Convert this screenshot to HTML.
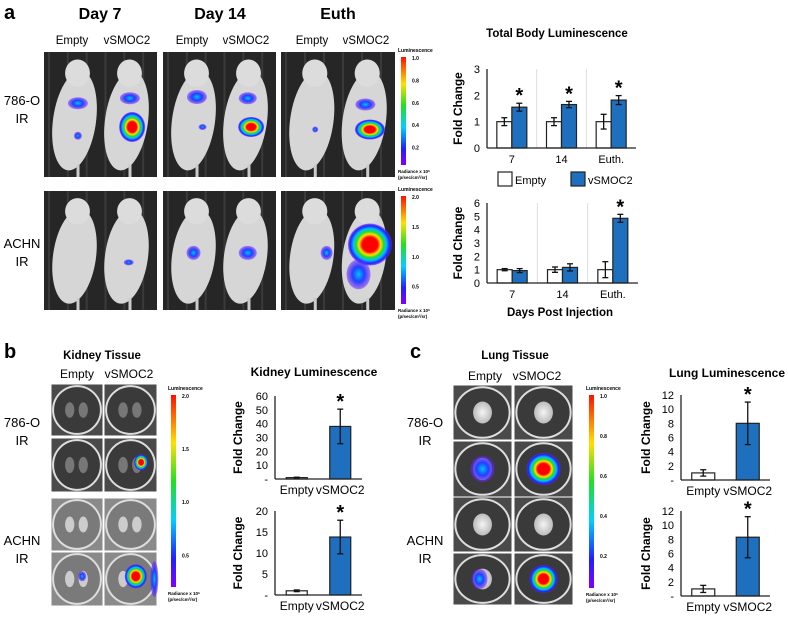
<!DOCTYPE html>
<html><head><meta charset="utf-8"><style>
body{margin:0;background:#fff;}
svg{display:block;font-family:"Liberation Sans",Arial,sans-serif;}
</style></head><body>
<svg id="fig" width="788" height="617" viewBox="0 0 788 617" xmlns="http://www.w3.org/2000/svg">
<defs>
<linearGradient id="cbar" x1="0" y1="1" x2="0" y2="0">
<stop offset="0" stop-color="#8000ff"/><stop offset="0.15" stop-color="#2020ff"/><stop offset="0.35" stop-color="#00d0ff"/><stop offset="0.55" stop-color="#20e020"/><stop offset="0.75" stop-color="#ffe000"/><stop offset="1" stop-color="#ff1000"/>
</linearGradient>
<radialGradient id="heat"><stop offset="0" stop-color="#ff0000"/><stop offset="0.35" stop-color="#ff0000"/><stop offset="0.5" stop-color="#ffe000"/><stop offset="0.62" stop-color="#20e020"/><stop offset="0.75" stop-color="#00c0ff"/><stop offset="0.9" stop-color="#2020ff"/><stop offset="1" stop-color="#6a20ff" stop-opacity="0.6"/></radialGradient>
<radialGradient id="cool"><stop offset="0" stop-color="#00c0ff"/><stop offset="0.5" stop-color="#2040ff"/><stop offset="1" stop-color="#7020ff" stop-opacity="0.5"/></radialGradient>
<radialGradient id="tissue"><stop offset="0" stop-color="#f4f4f4"/><stop offset="1" stop-color="#bbb"/></radialGradient>
</defs>
<g id="static"></g>
<g id="charts"></g>
</svg>
<script>
// ===== Chart data =====
const bodyCats = ["7","14","Euth."];
const body786Empty = [1.0,1.0,1.0];
const body786EmptyErr = [0.15,0.15,0.28];
const body786Smoc = [1.55,1.65,1.82];
const body786SmocErr = [0.15,0.12,0.17];
const body786Ticks = [0,1,2,3];
const bodyAchnEmpty = [1.0,1.0,1.0];
const bodyAchnEmptyErr = [0.08,0.2,0.6];
const bodyAchnSmoc = [0.93,1.17,4.85];
const bodyAchnSmocErr = [0.15,0.27,0.3];
const bodyAchnTicks = [0,1,2,3,4,5,6];
const body786Stars = [true,true,true];
const bodyAchnStars = [false,false,true];
const tissueCats = ["Empty","vSMOC2"];
const tissueStars = [false,true];
const kidney786 = [1.0,38];
const kidney786Err = [0.3,12.5];
const kidney786Ticks = ["-","10","20","30","40","50","60"];
const kidneyAchn = [1.0,13.8];
const kidneyAchnErr = [0.2,4];
const kidneyAchnTicks = ["-","5","10","15","20"];
const lung786 = [1.0,8.0];
const lung786Err = [0.45,3.0];
const lungAchn = [1.0,8.3];
const lungAchnErr = [0.5,2.9];
const lungTicks = ["-","2","4","6","8","10","12"];

const NS="http://www.w3.org/2000/svg";
function mk(parent,tag,attrs,txt){const e=document.createElementNS(NS,tag);for(const k in attrs)e.setAttribute(k,attrs[k]);if(txt!==undefined)e.textContent=txt;parent.appendChild(e);return e;}
const S=document.getElementById('static');
const C=document.getElementById('charts');
const BLUE="#1f6fbf";

function txt(x,y,s,size,weight,anchor,name){const t=mk(S,'text',{x:x,y:y,'font-size':size,'font-weight':weight||'normal','text-anchor':anchor||'middle',fill:'#000'},s);


return t;}

txt(4,19,"a",20,"bold","start","panel-label-a");
txt(4,358,"b",20,"bold","start","panel-label-b");
txt(410,358,"c",20,"bold","start","panel-label-c");
txt(100,19,"Day 7",16,"bold","middle","day7-header");
txt(220,19,"Day 14",16,"bold","middle","day14-header");
txt(338,19,"Euth",16,"bold","middle","euth-header");
[[72,127],[192,246],[312,366]].forEach((p,i)=>{txt(p[0],44,"Empty",11.5,"normal","middle","empty-col-label");txt(p[1],44,"vSMOC2",11.5,"normal","middle","vsmoc2-col-label");});
txt(22,105,"786-O",13,"normal","middle","row-786o");txt(22,123,"IR",13,"normal","middle","row-786o-ir");
txt(22,248,"ACHN",13,"normal","middle","row-achn");txt(22,266,"IR",13,"normal","middle","row-achn-ir");

function mousePanel(x,y,w,h,blobs){
 const g=mk(S,'g',{});
 
 
 mk(g,'rect',{x:x,y:y,width:w,height:h,fill:'#262626'});
 for(let i=0;i<6;i++)mk(g,'rect',{x:x+4+i*w/6,y:y,width:2,height:h,fill:'#3a3a3a'});
 [0.27,0.73].forEach((f,j)=>{const cx=x+w*f, cy=y+h*0.55;
  mk(g,'ellipse',{cx:cx,cy:cy,rx:w*0.19,ry:h*0.4,fill:'#d6d6d6',transform:`rotate(8 ${cx} ${cy})`});
  mk(g,'ellipse',{cx:cx+3,cy:y+h*0.17,rx:w*0.11,ry:h*0.11,fill:'#dcdcdc'});
  mk(g,'rect',{x:cx+2,y:y+h*0.9,width:3,height:h*0.1,fill:'#ccc'});
 });
 blobs.forEach(b=>mk(g,'ellipse',{cx:x+w*b[0],cy:y+h*b[1],rx:b[2],ry:b[3],fill:b[4]?'url(#heat)':'url(#cool)'}));
}
mousePanel(44,52,113,125,[[0.3,0.41,10,6,0],[0.3,0.67,4,4,0],[0.76,0.37,10,6,0],[0.78,0.6,13,15,1]]);
mousePanel(163,52,113,125,[[0.3,0.36,10,7,0],[0.35,0.6,4,3,0],[0.75,0.37,9,6,0],[0.78,0.6,13,10,1]]);
mousePanel(281,52,114,125,[[0.3,0.62,3,3,0],[0.74,0.42,10,6,0],[0.78,0.62,15,10,1]]);
mousePanel(44,191,113,119,[[0.75,0.6,5,3,0]]);
mousePanel(163,191,113,119,[[0.27,0.52,7,7,0],[0.75,0.52,9,7,0]]);
mousePanel(281,191,114,119,[[0.4,0.52,6,7,0],[0.78,0.45,22,21,1],[0.68,0.7,12,15,0]]);

function colorbar(x,y,h,labels,title,name){
 const g=mk(S,'g',{});
 
 
 mk(g,'text',{x:x-3,y:y-5,'font-size':5,'font-weight':'bold'},title);
 mk(g,'rect',{x:x,y:y,width:5,height:h,fill:'url(#cbar)'});
 labels.forEach((l,i)=>mk(g,'text',{x:x+11,y:y+3+i*(h*0.83)/(labels.length-1),'font-size':5,'font-weight':'bold'},l));
 mk(g,'text',{x:x-3,y:y+h+8,'font-size':4.5,'font-weight':'bold'},"Radiance x 10⁶");
 mk(g,'text',{x:x-3,y:y+h+14,'font-size':4.5,'font-weight':'bold'},"(p/sec/cm²/sr)");
}
colorbar(401,57,108,["1.0","0.8","0.6","0.4","0.2"],"Luminescence","colorbar-786o");
colorbar(401,196,108,["2.0","1.5","1.0","0.5"],"Luminescence","colorbar-achn");
colorbar(171,395,192,["2.0","1.5","1.0","0.5"],"Luminescence","colorbar-kidney");
colorbar(589,395,193,["1.0","0.8","0.6","0.4","0.2"],"Luminescence","colorbar-lung");

function dish(x,y,w,h,light,blobs,lung){
 const g=mk(S,'g',{});
 
 
 mk(g,'rect',{x:x,y:y,width:w,height:h,fill:light?'#8a8a8a':'#4a4a4a',stroke:'#fff','stroke-width':1});
 mk(g,'ellipse',{cx:x+w/2,cy:y+h/2,rx:w*0.46,ry:h*0.46,fill:light?'#7a7a7a':'#3a3a3a',stroke:'#ddd','stroke-width':2});
 if(lung){mk(g,'ellipse',{cx:x+w/2,cy:y+h/2,rx:w*0.16,ry:h*0.2,fill:'url(#tissue)'});}
 else{mk(g,'ellipse',{cx:x+w*0.36,cy:y+h/2,rx:w*0.09,ry:h*0.15,fill:light?'#ccc':'#777'});mk(g,'ellipse',{cx:x+w*0.62,cy:y+h/2,rx:w*0.09,ry:h*0.15,fill:light?'#ccc':'#777'});}
 blobs.forEach(b=>mk(g,'ellipse',{cx:x+w*b[0],cy:y+h*b[1],rx:b[2],ry:b[3],fill:b[4]?'url(#heat)':'url(#cool)'}));
}
dish(51,384,52,52,false,[]);dish(104,384,53,52,false,[]);
dish(51,438,52,54,false,[]);dish(104,438,53,54,false,[[0.7,0.45,7,8,1]]);
dish(51,498,52,53,true,[]);dish(104,498,53,53,true,[]);
dish(51,552,52,54,true,[[0.6,0.45,4,5,0]]);dish(104,552,53,54,true,[[0.6,0.45,11,12,1],[0.95,0.5,4,18,0]]);
txt(102,359,"Kidney Tissue",11.5,"bold","middle","kidney-tissue-title");
txt(77,378,"Empty",12,"normal","middle","kidney-empty-label");txt(129,378,"vSMOC2",12,"normal","middle","kidney-vsmoc2-label");
txt(22,427,"786-O",13,"normal","middle","kidney-row-786o");txt(22,445,"IR",13,"normal","middle","kidney-row-786o-ir");
txt(22,545,"ACHN",13,"normal","middle","kidney-row-achn");txt(22,563,"IR",13,"normal","middle","kidney-row-achn-ir");

dish(453,385,59,55,false,[],1);dish(514,385,59,55,false,[],1);
dish(453,441,59,56,false,[[0.5,0.5,12,13,0]],1);dish(514,441,59,56,false,[[0.5,0.5,17,16,1]],1);
dish(453,497,59,55,false,[],1);dish(514,497,59,55,false,[],1);
dish(453,553,59,52,false,[[0.45,0.5,8,10,0]],1);dish(514,553,59,52,false,[[0.5,0.5,14,14,1]],1);
txt(515,359,"Lung Tissue",11.5,"bold","middle","lung-tissue-title");
txt(485,380,"Empty",12,"normal","middle","lung-empty-label");txt(537,380,"vSMOC2",12,"normal","middle","lung-vsmoc2-label");
txt(425,427,"786-O",13,"normal","middle","lung-row-786o");txt(425,445,"IR",13,"normal","middle","lung-row-786o-ir");
txt(425,545,"ACHN",13,"normal","middle","lung-row-achn");txt(425,563,"IR",13,"normal","middle","lung-row-achn-ir");

function chart(cfg){
 const g=mk(C,'g',{});
 
 
 const n=cfg.cats.length, gw=(cfg.x1-cfg.x0)/n;
 const yS=v=>cfg.yb-(v/cfg.max)*(cfg.yb-cfg.yt);
 cfg.ticks.forEach((t,i)=>{const v=cfg.tickVals[i];const tt=mk(g,'text',{x:cfg.x0-7,y:yS(v)+4,'font-size':11,'text-anchor':'end'},t);
  
  });
 if(cfg.dividers)for(let i=1;i<n;i++)mk(g,'line',{x1:cfg.x0+gw*i,y1:cfg.yt,x2:cfg.x0+gw*i,y2:cfg.yb,stroke:'#ddd','stroke-width':1});
 cfg.cats.forEach((c,i)=>{const cx=cfg.x0+gw*(i+0.5);
  const lt=mk(g,'text',{x:cx,y:cfg.yb+15,'font-size':cfg.catSize||11,'text-anchor':'middle'},c);
  
  
  cfg.series.forEach((s,j)=>{
   const bw=cfg.bw, bx=cfg.series.length===1?cx-bw/2:(j===0?cx-bw:cx);
   const v=s.vals[i], e=s.err[i];
   const fill=Array.isArray(s.fill)?s.fill[i]:s.fill;
   const r=mk(g,'rect',{x:bx,y:yS(v),width:bw,height:cfg.yb-yS(v),fill:fill,stroke:'#222','stroke-width':1.2});
   
   
   const ex=bx+bw/2;
   mk(g,'line',{x1:ex,y1:yS(v+e),x2:ex,y2:yS(Math.max(0,v-e)),stroke:'#111','stroke-width':1.3});
   mk(g,'line',{x1:ex-3,y1:yS(v+e),x2:ex+3,y2:yS(v+e),stroke:'#111','stroke-width':1.3});
   mk(g,'line',{x1:ex-3,y1:yS(Math.max(0,v-e)),x2:ex+3,y2:yS(Math.max(0,v-e)),stroke:'#111','stroke-width':1.3});
   if(s.stars&&s.stars[i]){const st=mk(g,'text',{x:ex,y:yS(v+e)+11,'font-size':20,'font-weight':'bold','text-anchor':'middle'},"*");
    
    
    st.setAttribute('transform',`translate(0,-12)`);}
  });
 });
 mk(g,'line',{x1:cfg.x0,y1:cfg.yt,x2:cfg.x0,y2:cfg.yb,stroke:'#222','stroke-width':1.3});
 mk(g,'line',{x1:cfg.x0,y1:cfg.yb,x2:cfg.x1,y2:cfg.yb,stroke:'#222','stroke-width':1.3});
 const yt=mk(g,'text',{x:0,y:0,'font-size':12,'font-weight':'bold','text-anchor':'middle',transform:`translate(${cfg.x0-cfg.tOff},${(cfg.yt+cfg.yb)/2}) rotate(-90)`},"Fold Change");
 
 
}
const TF=['#fff',BLUE];
chart({name:'body-786o-chart',cats:bodyCats,x0:487,x1:636,yb:148,yt:69,max:3,ticks:body786Ticks.map(String),tickVals:body786Ticks,dividers:1,bw:15,tOff:25,
 series:[{key:'empty',vals:body786Empty,err:body786EmptyErr,fill:'#fff'},{key:'vsmoc2',vals:body786Smoc,err:body786SmocErr,fill:BLUE,stars:body786Stars}]});
chart({name:'body-achn-chart',cats:bodyCats,x0:487,x1:638,yb:283,yt:203,max:6,ticks:bodyAchnTicks.map(String),tickVals:bodyAchnTicks,dividers:1,bw:15,tOff:25,
 series:[{key:'empty',vals:bodyAchnEmpty,err:bodyAchnEmptyErr,fill:'#fff'},{key:'vsmoc2',vals:bodyAchnSmoc,err:bodyAchnSmocErr,fill:BLUE,stars:bodyAchnStars}]});
chart({name:'kidney-786o-chart',cats:tissueCats,x0:275,x1:362,yb:479,yt:396,max:60,ticks:kidney786Ticks,tickVals:[0,10,20,30,40,50,60],bw:21,catSize:12,tOff:33,
 series:[{key:'value',vals:kidney786,err:kidney786Err,fill:TF,stars:tissueStars}]});
chart({name:'kidney-achn-chart',cats:tissueCats,x0:275,x1:362,yb:595,yt:511,max:20,ticks:kidneyAchnTicks,tickVals:[0,5,10,15,20],bw:21,catSize:12,tOff:33,
 series:[{key:'value',vals:kidneyAchn,err:kidneyAchnErr,fill:TF,stars:tissueStars}]});
chart({name:'lung-786o-chart',cats:tissueCats,x0:681,x1:770,yb:480,yt:395,max:12,ticks:lungTicks,tickVals:[0,2,4,6,8,10,12],bw:23,catSize:12,tOff:31,
 series:[{key:'value',vals:lung786,err:lung786Err,fill:TF,stars:tissueStars}]});
chart({name:'lung-achn-chart',cats:tissueCats,x0:681,x1:770,yb:596,yt:511,max:12,ticks:lungTicks,tickVals:[0,2,4,6,8,10,12],bw:23,catSize:12,tOff:31,
 series:[{key:'value',vals:lungAchn,err:lungAchnErr,fill:TF,stars:tissueStars}]});

txt(557,37,"Total Body Luminescence",11.5,"bold","middle","body-luminescence-title");
txt(560,316,"Days Post Injection",11.5,"bold","middle","x-axis-title");
txt(314,376,"Kidney Luminescence",12,"bold","middle","kidney-luminescence-title");
txt(727,377,"Lung Luminescence",12,"bold","middle","lung-luminescence-title");
const lg=mk(S,'g',{});


mk(lg,'rect',{x:498,y:172,width:14,height:14,fill:'#fff',stroke:'#222','stroke-width':1.2});
mk(lg,'text',{x:515,y:184,'font-size':11},"Empty");
mk(lg,'rect',{x:571,y:172,width:14,height:14,fill:BLUE,stroke:'#222','stroke-width':1.2});
mk(lg,'text',{x:588,y:184,'font-size':11},"vSMOC2");
</script>
</body></html>
